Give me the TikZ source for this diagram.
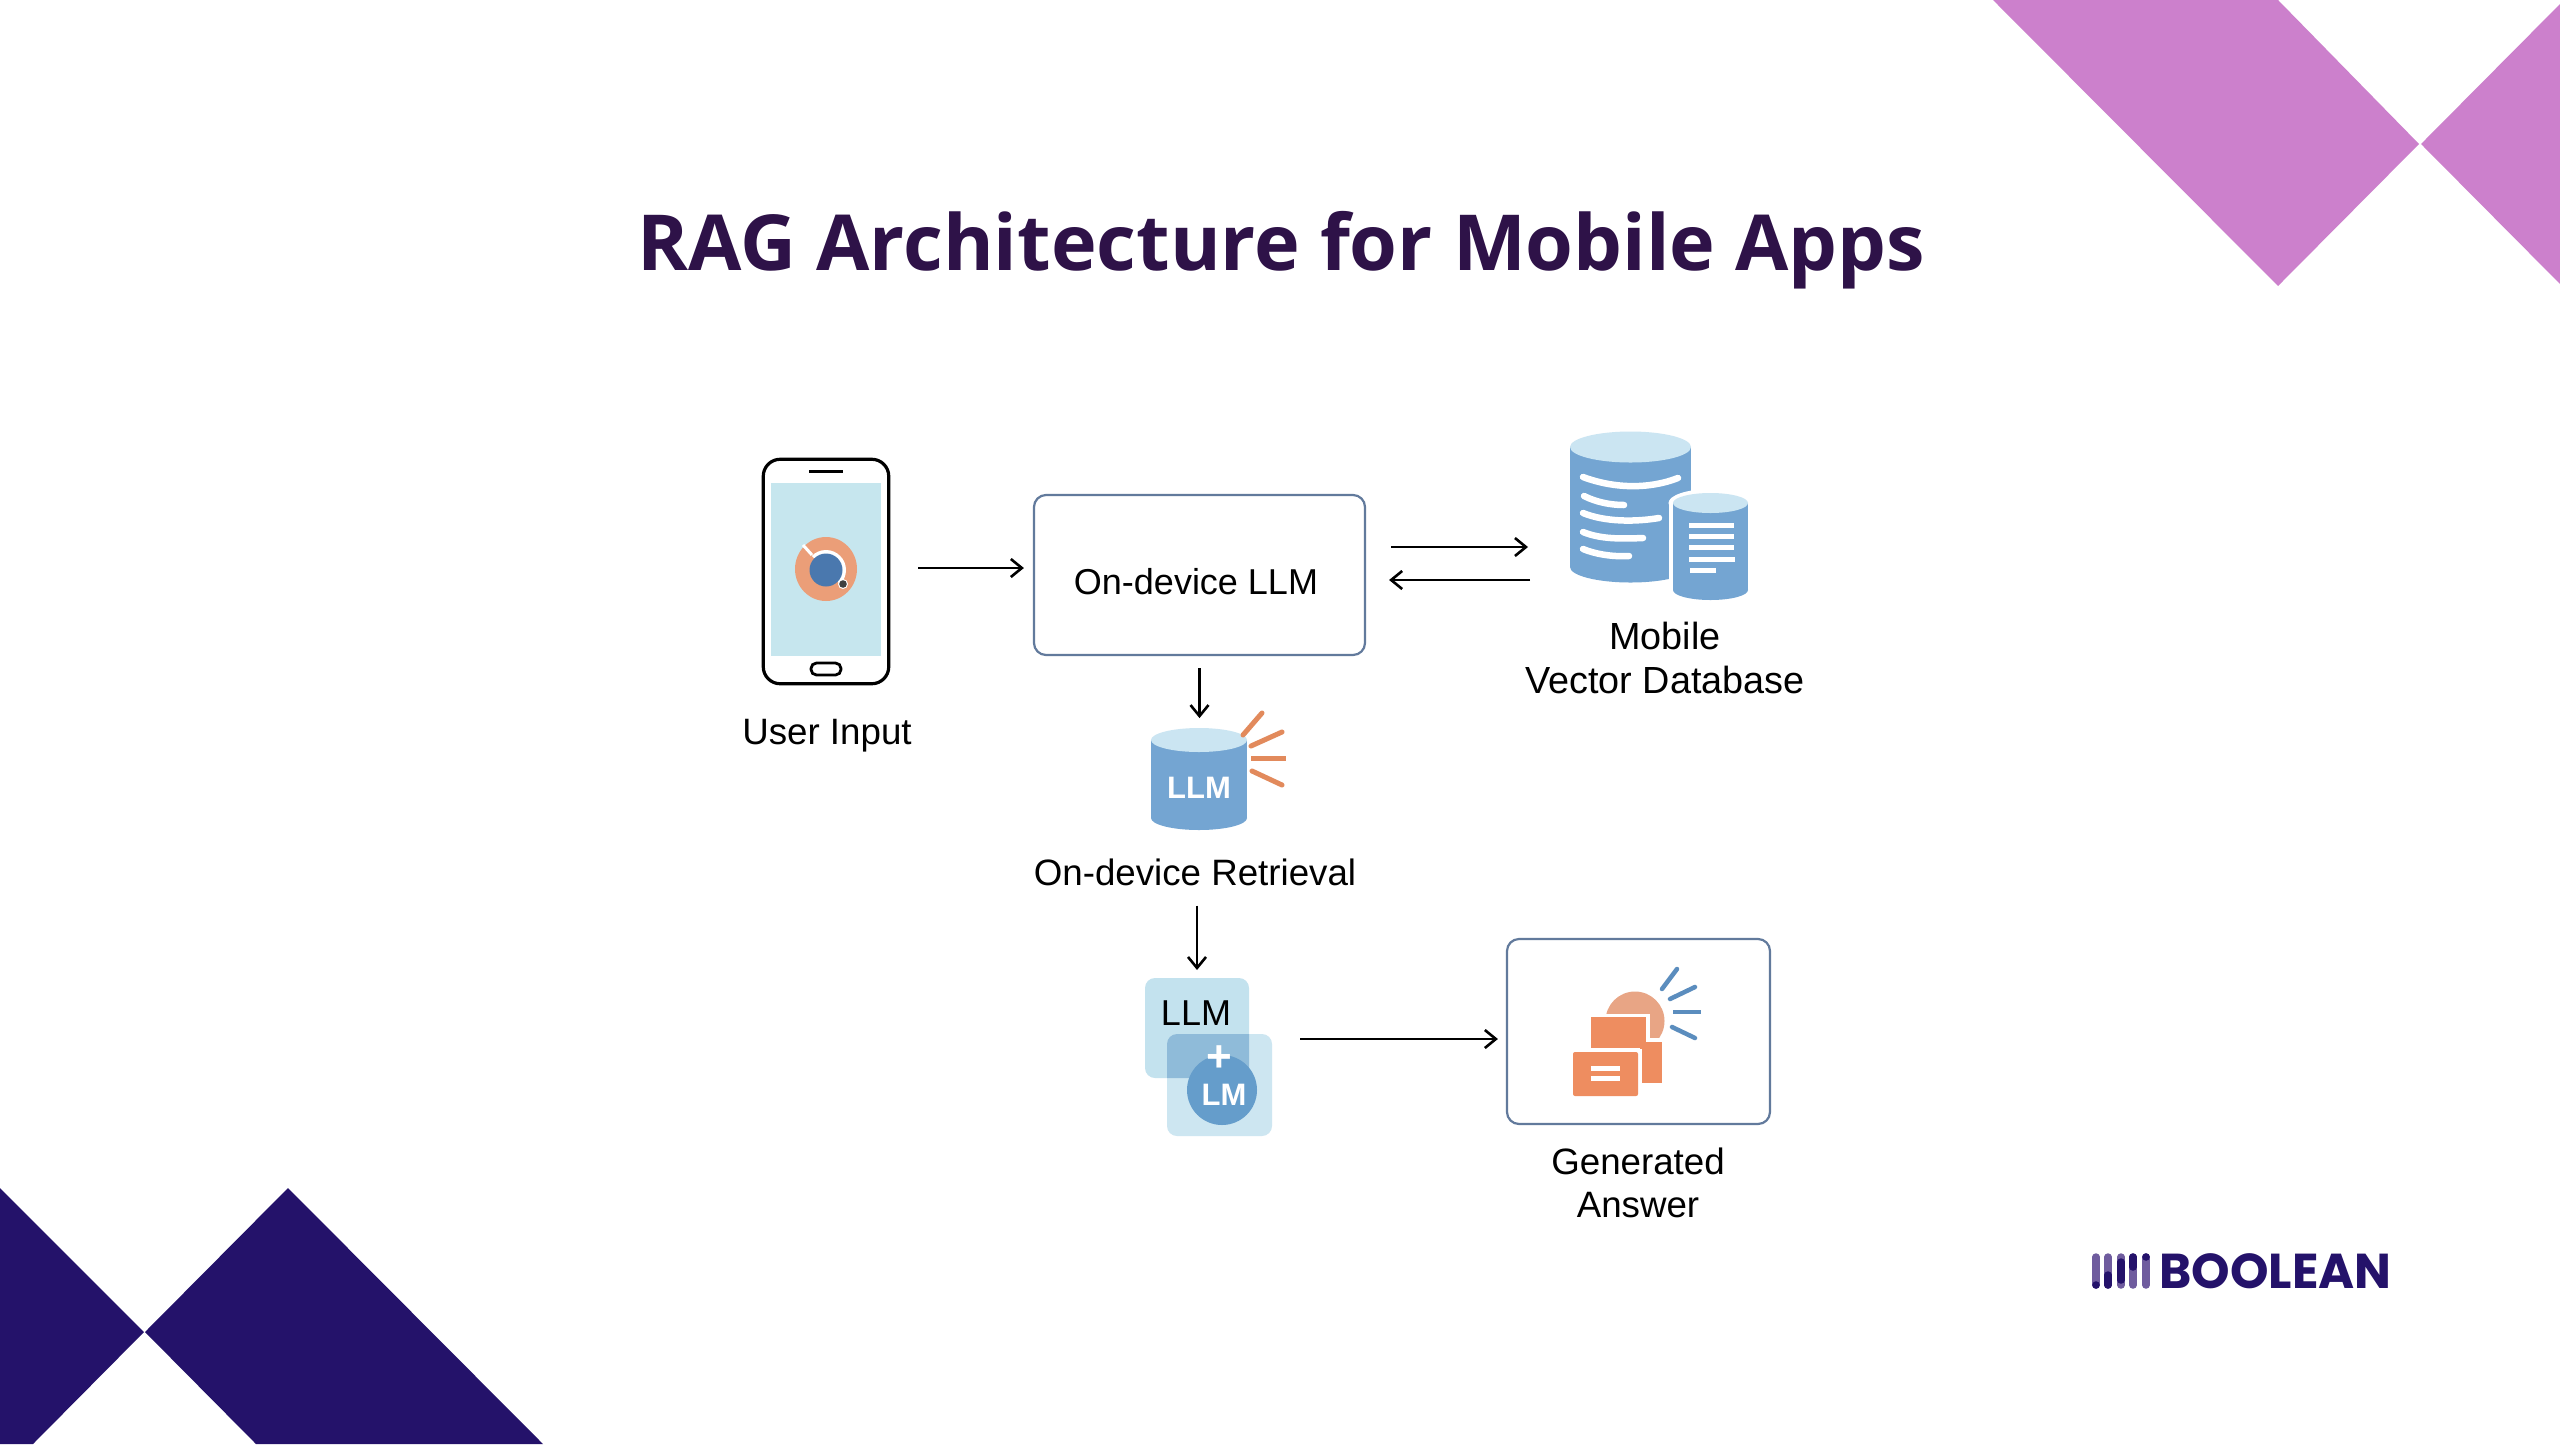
\documentclass[tikz,border=0pt]{standalone}
\usepackage{fontspec}
\setmainfont{Liberation Sans}
\newfontfamily\titlef{Open Sans}
\newfontfamily\logof{Poppins}
\usetikzlibrary{arrows.meta,calc}
\definecolor{pinkc}{HTML}{CC80CC}
\definecolor{navyc}{HTML}{24126A}
\definecolor{titlec}{HTML}{2E1248}
\definecolor{dbblue}{HTML}{74A5D2}
\definecolor{dbtop}{HTML}{CBE5F2}
\definecolor{screenc}{HTML}{C6E6EE}
\definecolor{peach}{HTML}{EB9E78}
\definecolor{dotblue}{HTML}{4A78AE}
\definecolor{boxline}{HTML}{627A9C}
\definecolor{orangec}{HTML}{EE8D60}
\definecolor{lightor}{HTML}{E8A585}
\definecolor{rayor}{HTML}{E28A5C}
\definecolor{rayblue}{HTML}{5B8DBE}
\definecolor{tileA}{HTML}{C3E2EE}
\definecolor{tileB}{HTML}{CDE6F1}
\definecolor{tileO}{HTML}{8FBBD9}
\definecolor{circb}{HTML}{659DCB}
\definecolor{logol}{HTML}{6F5C9E}
\tikzset{
  x=1pt,y=-1pt,
  lbl/.style={font=\fontsize{36.7}{43.5}\selectfont,text=black,align=center,inner sep=0pt},
  arr/.style={line width=2.6pt,draw=black,-{Straight Barb[length=11pt,width=18pt,line width=2.6pt]}},
  rbox/.style={draw=boxline,line width=2.2pt,rounded corners=12pt,fill=white,inner sep=0pt},
  hit/.style={inner sep=0pt,outer sep=0pt},
  wline/.style={draw=white,line width=6.5pt,line cap=round},
  sline/.style={draw=white,line width=5pt},
  oray/.style={draw=rayor,line width=5pt,line cap=round},
  bray/.style={draw=rayblue,line width=4.5pt,line cap=round},
  bar/.style={line width=7.5pt,line cap=round},
}
\newcommand{\cyl}[6]{% cx, ytop, rx, ry, ybottom, colours
  \fill[#6] ({#1-#3},#2) rectangle ({#1+#3},#5);
  \fill[#6] (#1,#5) ellipse [x radius=#3,y radius=#4];
}
\begin{document}
\begin{tikzpicture}
\useasboundingbox (0,0) rectangle (2560,1444);
\fill[white] (0,0) rectangle (2560,1444);
% corners
\fill[pinkc] (1993,0) -- (2278,286) -- (2419,144) -- (2278,0) -- cycle;
\fill[pinkc] (2561,3) -- (2421,144) -- (2561,285) -- cycle;
\fill[navyc] (0,1188) -- (144,1332) -- (33,1444) -- (0,1444) -- cycle;
\fill[navyc] (288,1188) -- (543,1444) -- (256,1444) -- (145,1332) -- cycle;
% title
\node[hit,anchor=base,font=\titlef\bfseries\fontsize{77.3}{90}\selectfont,text=titlec] (title) at (1281.5,270) {RAG Architecture for Mobile Apps};
% phone
\node[draw=black,line width=3.2pt,rounded corners=17pt,minimum width=125.5pt,minimum height=224.5pt,inner sep=0pt,fill=white] (phone) at (826,571.5) {};
\fill[screenc] (771,483) rectangle (881,656);
\draw[black,line width=3pt] (809,471) -- (843,471);
\draw[black,line width=2.8pt,rounded corners=5.5pt] (811,663) rectangle (841,675);
\fill[peach] (826,569) ellipse [x radius=31,y radius=32];
\begin{scope}
\clip (796,540) -- (856,600) -- (900,540) -- (840,520) -- cycle;
\fill[white] (826,570) circle [radius=20];
\end{scope}
\draw[white,line width=3pt] (803,545) -- (812,555);
\fill[dotblue] (826,570) circle [radius=16.5];
\fill[white] (843,584) circle [radius=5];
\fill[black!75] (843,584) circle [radius=3.8];
\node[lbl] (userlbl) at (827,736) {User Input};
% llm box
\node[rbox,minimum width=331pt,minimum height=160pt] (llm) at (1199.5,575) {};
\node[lbl,font=\fontsize{36}{43}\selectfont] (llmlbl) at (1196,582) {On-device LLM};
% database
\cyl{1630.5}{447}{60.5}{15.5}{567}{dbblue}
\fill[dbtop] (1630.5,447) ellipse [x radius=60.5,y radius=15.5];
\draw[wline] (1583,477) .. controls (1615,489) and (1650,489) .. (1678,478);
\draw[wline] (1584,496) .. controls (1596,502) and (1610,505) .. (1624,505);
\draw[wline] (1583,513) .. controls (1605,522) and (1635,522) .. (1659,518);
\draw[wline] (1583,532) .. controls (1600,539) and (1620,539) .. (1643,538);
\draw[wline] (1583,549) .. controls (1595,554) and (1612,557) .. (1629,556);
\fill[white] (1669,503) rectangle (1752,603);
\fill[white] (1710.5,503) ellipse [x radius=42,y radius=14];
\cyl{1710.5}{503}{37.5}{10}{590}{dbblue}
\fill[dbtop] (1710.5,503) ellipse [x radius=37.5,y radius=10];
\draw[sline] (1689,525) -- (1734,525);
\draw[sline] (1689,536) -- (1734,536);
\draw[sline] (1689,547) -- (1734,547);
\draw[sline] (1689,559) -- (1735,559);
\draw[sline] (1690,570) -- (1716,570);
\node[hit,minimum width=178pt,minimum height=166pt] (db) at (1659,515) {};
\node[lbl,font=\fontsize{37.8}{43.5}\selectfont] (dblbl) at (1665,658) {Mobile\\Vector Database};
% retrieval
\cyl{1199}{740}{48}{12}{818}{dbblue}
\fill[dbtop] (1199,740) ellipse [x radius=48,y radius=12];
\node[lbl,text=white,font=\bfseries\fontsize{31}{38}\selectfont] (retr) at (1199,788) {LLM};
\draw[oray] (1243,735) -- (1262,713);
\draw[oray] (1251,746) -- (1282,732);
\draw[oray,line cap=butt] (1251,758) -- (1286,758);
\draw[oray] (1252,771) -- (1282,785);
\node[lbl] (retrlbl) at (1195,872) {On-device Retrieval};
% merge icon
\fill[tileA,rounded corners=10pt] (1145,978) rectangle (1249,1078);
\fill[tileB,rounded corners=10pt] (1167,1034) rectangle (1272,1136);
\begin{scope}
\clip[rounded corners=10pt] (1145,978) rectangle (1249,1078);
\fill[tileO,rounded corners=10pt] (1167,1034) rectangle (1272,1136);
\end{scope}
\fill[circb] (1222,1090) circle [radius=35];
\node[lbl,font=\fontsize{36}{43}\selectfont] (mergea) at (1196,1013) {LLM};
\node[lbl,text=white,font=\bfseries\fontsize{44}{50}\selectfont] (plus) at (1219,1059) {+};
\node[lbl,text=white,font=\bfseries\fontsize{31}{38}\selectfont] (mergeb) at (1224,1095) {LM};
\node[hit,minimum width=127pt,minimum height=158pt] (merge) at (1208.5,1057) {};
% generated
\node[rbox,minimum width=263pt,minimum height=185pt] (gen) at (1638.5,1031.5) {};
\begin{scope}
\clip (1600,985) rectangle (1670,1037.5);
\fill[lightor] (1635,1021) circle [radius=29.5];
\end{scope}
\draw[white,line width=7pt,fill=orangec] (1591,1017) rectangle (1646,1048);
\fill[orangec] (1591,1017) rectangle (1646,1048);
\fill[orangec] (1643,1042) rectangle (1662,1083);
\fill[orangec] (1640,1048) rectangle (1662,1083);
\draw[white,line width=7pt] (1573,1052) rectangle (1638,1096);
\fill[orangec,rounded corners=2pt] (1573,1052) rectangle (1638,1096);
\fill[white] (1591,1065.5) rectangle (1620,1070.5);
\fill[white] (1591,1076) rectangle (1620,1081);
\draw[bray] (1662,989) -- (1677,969);
\draw[bray] (1670,999) -- (1695,987);
\draw[bray,line cap=butt] (1673,1012) -- (1701,1012);
\draw[bray] (1672,1027) -- (1695,1038);
\node[lbl] (genlbl) at (1638,1183) {Generated\\Answer};
% connectors
\draw[arr] ([shift={(28,-3.5)}]phone.east) -- ([shift={(-9,-7)}]llm.west);
\draw[arr] ([shift={(25,-28)}]llm.east) -- ([shift={(-42,32)}]db.west);
\draw[arr] ([shift={(-40,65)}]db.west) -- ([shift={(23,5)}]llm.east);
\draw[arr] ([yshift=-12pt]llm.south) -- ++(0,50);
\draw[arr] ([shift={(2,20)}]retrlbl.south) -- ([shift={(-11.5,-8)}]merge.north);
\draw[arr] ([shift={(28,-18)}]merge.east) -- ([shift={(-8,7.5)}]gen.west);
% logo
\draw[bar,logol] (2096,1257) -- (2096,1285);
\draw[bar,logol] (2108,1257) -- (2108,1285);
\draw[bar,logol] (2121,1257) -- (2121,1285);
\draw[bar,logol] (2133,1257) -- (2133,1285);
\draw[bar,logol] (2146,1257) -- (2146,1285);
\fill[navyc] (2096,1285) circle [radius=3.8];
\draw[bar,navyc] (2108,1275) -- (2108,1285);
\draw[bar,navyc] (2121,1262) -- (2121,1280);
\draw[bar,navyc] (2133,1257) -- (2133,1267);
\fill[navyc] (2146,1257) circle [radius=3.8];
\node[hit,font=\logof\bfseries\fontsize{49}{60}\selectfont,text=navyc] (logo) at (2275.5,1271) {BOOLEAN};
\end{tikzpicture}
\end{document}
